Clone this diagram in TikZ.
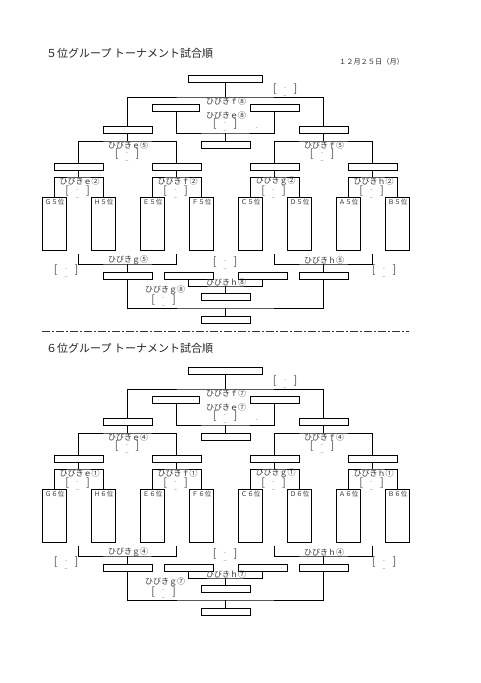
\documentclass[tikz,border=0pt]{standalone}
\usepackage{fontspec}
\setmainfont{Noto Sans CJK JP}
\tikzset{
  ln/.style={line width=0.8pt, draw=black},
  bx/.style={draw=black, line width=0.8pt, minimum width=49pt, minimum height=7pt, inner sep=0pt, outer sep=0pt},
  rk/.style={bx, minimum width=24.5pt, minimum height=53pt},
  lb/.style={inner sep=0pt, font=\fontsize{8}{8}\selectfont, text=black!80},
  rt/.style={inner sep=0pt, font=\fontsize{6.5}{6.5}\selectfont, text=black!80},
  scb/.style={inner sep=0pt, font=\fontsize{11}{11}\selectfont, text=black!70},
  ttl/.style={inner sep=0pt, font=\fontsize{11}{11}\selectfont, text=black!85, anchor=west},
}
\newcommand{\scoreph}{[\hspace{8.5pt}\makebox[0pt]{\raisebox{3.5pt}{\fontsize{5}{5}\selectfont -}}\makebox[0pt]{\raisebox{-2.5pt}{\fontsize{5}{5}\selectfont \_}}\hspace{8.5pt}]}
\newcommand{\halfbracket}[4]{%
  % boxes
  \node[bx, minimum width=74pt] (T) at (225,78.5) {};
  \node[bx, minimum width=47pt] (IL) at (176,107.5) {};
  \node[bx] (IR) at (274.5,107.5) {};
  \node[bx] (C3) at (225.5,144.5) {};
  \node[bx] (SL) at (127.5,129.5) {};
  \node[bx] (SR) at (323.5,129.5) {};
  \foreach \x [count=\i] in {78.5,176.5,274.5,372.5} {\node[bx] (Q\i) at (\x,166.5) {};}
  \foreach \L [count=\i] in {Ｇ,Ｈ,Ｅ,Ｆ,Ｃ,Ｄ,Ａ,Ｂ} {
    \node[rk] (R\i) at ({5.5+49*\i},223.5) {};
    \node[rt, anchor=north, yshift=-2pt] (RT\i) at (R\i.north) {\L#4位};
  }
  \node[bx] (LL) at (127.5,275.5) {};
  \node[bx] (LM) at (188.5,275.5) {};
  \node[bx] (RM) at (262.5,275.5) {};
  \node[bx] (RR) at (323.5,275.5) {};
  \node[bx] (B1) at (225.5,297) {};
  \node[bx] (B2) at (225.5,319.5) {};
  % junctions
  \coordinate (jT) at (225,97);
  \coordinate (jC) at (225.5,133);
  \coordinate (jSL) at (127.5,141);
  \coordinate (jSR) at (323.5,141);
  \coordinate (u1) at (78.5,254);
  \coordinate (u2) at (176.5,254);
  \coordinate (u3) at (274.5,254);
  \coordinate (u4) at (372.5,254);
  \coordinate (jLL) at (127.5,264);
  \coordinate (jRR) at (323.5,264);
  \coordinate (jB1) at (225.5,286);
  \coordinate (jB2) at (225.5,308);
  % connectors
  \draw[ln] (T.south) -- (jT);
  \draw[ln] (SL.north) |- (jT) -| (SR.north);
  \draw[ln] (IL.south) |- (jC) -| (IR.south);
  \draw[ln] (jC) -- (C3.north);
  \draw[ln] (SL.south) -- (jSL);
  \draw[ln] (Q1.north) |- (jSL) -| (Q2.north);
  \draw[ln] (SR.south) -- (jSR);
  \draw[ln] (Q3.north) |- (jSR) -| (Q4.north);
  \foreach \i/\j/\k/\x in {1/1/2/78.5,2/3/4/176.5,3/5/6/274.5,4/7/8/372.5} {
    \coordinate (jQ\i) at (\x,177);
    \draw[ln] (Q\i.south) -- (jQ\i);
    \draw[ln] (R\j.north) |- (jQ\i) -| (R\k.north);
  }
  \draw[ln] (u1) |- (jLL) -| (u2);
  \draw[ln] (jLL) -- (LL.north);
  \draw[ln] (u3) |- (jRR) -| (u4);
  \draw[ln] (jRR) -- (RR.north);
  \draw[ln] (LM.south) |- (jB1) -| (RM.south);
  \draw[ln] (jB1) -- (B1.north);
  \draw[ln] (LL.south) |- (jB2) -| (RR.south);
  \draw[ln] (jB2) -- (B2.north);
  % labels
  \node[lb] (lf1) at (226,101) {ひびきｆ#1};
  \node[lb] (le1) at (226,115) {ひびきｅ#1};
  \node[scb] (s1) at (285,90) {\scoreph};
  \node[scb] (s2) at (225,125) {\scoreph};
  \node[lb, font=\fontsize{5}{5}\selectfont] (dash1) at (257,129) {-};
  \node[lb] (le2) at (128,145) {ひびきｅ#2};
  \node[scb] (s3) at (127,155) {\scoreph};
  \node[lb] (lf2) at (324,145) {ひびきｆ#2};
  \node[scb] (s4) at (322,155) {\scoreph};
  \foreach \L/\x [count=\i] in {ｅ/78.5,ｆ/176.5,ｇ/274.5,ｈ/372.5} {
    \node[lb] (lq\i) at (\x+1,181) {ひびき\L#3};
    \node[scb] (sq\i) at (\x-1,192) {\scoreph};
  }
  \node[lb] (lg2) at (128,260) {ひびきｇ#2};
  \node[lb] (lh2) at (324,260) {ひびきｈ#2};
  \node[scb] (s5) at (225,263) {\scoreph};
  \node[scb] (s6) at (66,271) {\scoreph};
  \node[scb] (s7) at (384,271) {\scoreph};
  \node[lb] (lh1) at (226,282) {ひびきｈ#1};
  \node[lb] (lg1) at (165,290) {ひびきｇ#1};
  \node[scb] (s8) at (163.5,300.5) {\scoreph};
}
\begin{document}
\begin{tikzpicture}[x=1pt,y=-1pt]
  \useasboundingbox (0,0) rectangle (480,683);
  \fill[white] (0,0) rectangle (480,683);
  \node[ttl] (title1) at (46,53) {５位グループ トーナメント試合順};
  \node[inner sep=0pt, font=\fontsize{7.2}{7.2}\selectfont, text=black!80] (date) at (371.5,62) {１２月２５日（月）};
  \begin{scope}[name prefix=a-]
    \halfbracket{⑧}{⑤}{②}{５}
  \end{scope}
  \coordinate (sepL) at (42,331);
  \coordinate (sepR) at (409,331);
  \draw[line width=0.75pt, black!80, dash pattern=on 8pt off 2pt on 2pt off 2pt] (sepL) -- (sepR);
  \node[ttl] (title2) at (46,348) {６位グループ トーナメント試合順};
  \begin{scope}[shift={(0,292)}, name prefix=b-]
    \halfbracket{⑦}{④}{①}{６}
  \end{scope}
\end{tikzpicture}
\end{document}
